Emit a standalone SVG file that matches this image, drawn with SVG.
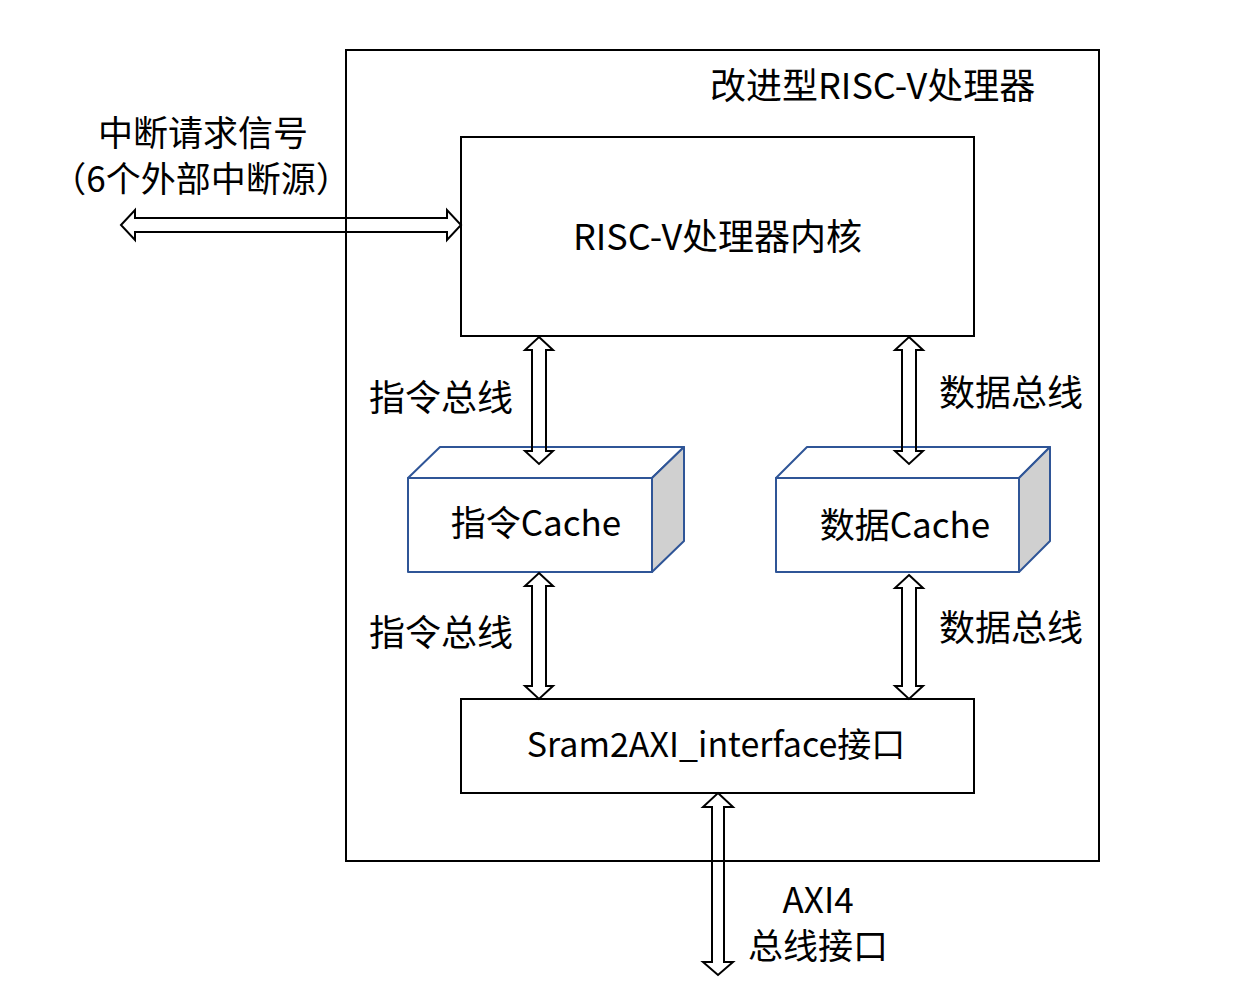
<svg xmlns="http://www.w3.org/2000/svg" width="1254" height="993" viewBox="0 0 1254 993">
<style>
text{font-family:"Noto Sans CJK SC","Noto Sans",sans-serif;font-size:36px;fill:#000}
.box{fill:#fff;stroke:#000;stroke-width:2}
.front{fill:#fff;stroke:#2F5597;stroke-width:2;stroke-linejoin:round}
.side{fill:#D0D0D0;stroke:#2F5597;stroke-width:2;stroke-linejoin:round}
.arr{fill:none;stroke:#000;stroke-width:2;stroke-linejoin:miter}
.m{text-anchor:middle}
.s{font-size:35px}
</style>
<rect width="1254" height="993" fill="#fff"/>
<g id="processor">
<rect class="box" x="346" y="50" width="753" height="811"/>
<text x="710" y="99">改进型RISC-V处理器</text>
</g>
<g id="core">
<rect class="box" x="461" y="137" width="513" height="199"/>
<text class="m" x="717.5" y="250">RISC-V处理器内核</text>
</g>
<g id="icache">
<polygon class="front" points="408,478 440,447 684,447 652,478"/>
<polygon class="side" points="652,478 684,447 684,541 652,572"/>
<rect class="front" x="408" y="478" width="244" height="94"/>
<text class="m" x="536" y="536" style="font-size:35px">指令Cache</text>
</g>
<g id="dcache">
<polygon class="front" points="776,478 807,447 1050,447 1019,478"/>
<polygon class="side" points="1019,478 1050,447 1050,541 1019,572"/>
<rect class="front" x="776" y="478" width="243" height="94"/>
<text class="m" x="905" y="538" style="font-size:35px">数据Cache</text>
</g>
<g id="sram2axi">
<rect class="box" x="461" y="699" width="513" height="94"/>
<text class="m" x="716" y="757" style="font-size:34px">Sram2AXI_interface接口</text>
</g>
<g id="connectors">
<polygon class="arr" points="121,225 135,210 135,218 447,218 447,210 461,225 447,240 447,232 135,232 135,240"/>
<polygon class="arr" points="539,337 553,350 546,350 546,451 553,451 539,464 525,451 532,451 532,350 525,350"/>
<polygon class="arr" points="909,337 923,350 916,350 916,451 923,451 909,464 895,451 902,451 902,350 895,350"/>
<polygon class="arr" points="539,573 553,586 546,586 546,686 553,686 539,699 525,686 532,686 532,586 525,586"/>
<polygon class="arr" points="909,575 923,588 916,588 916,686 923,686 909,699 895,686 902,686 902,588 895,588"/>
<polygon class="arr" points="718,793 733,807 724,807 724,962 733,962 718,975 703,962 712,962 712,807 703,807"/>
</g>
<g id="labels">
<text class="m s" x="203" y="146">中断请求信号</text>
<text class="m s" x="201" y="192">（6个外部中断源）</text>
<text x="369" y="411">指令总线</text>
<text x="939" y="406">数据总线</text>
<text x="369" y="646">指令总线</text>
<text x="939" y="641">数据总线</text>
<text class="m s" x="818" y="913">AXI4</text>
<text class="m s" x="818" y="959">总线接口</text>
</g>
</svg>
